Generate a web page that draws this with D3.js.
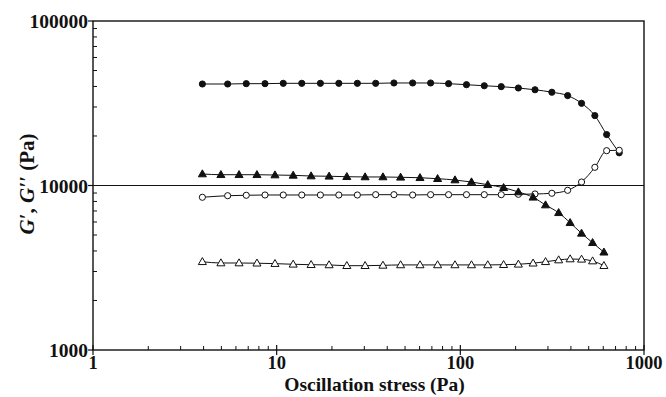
<!DOCTYPE html>
<html><head><meta charset="utf-8">
<script src="https://cdn.jsdelivr.net/npm/d3@7"></script>
<style>body{margin:0;background:#fff}svg{display:block}</style>
</head><body><svg id="c" width="666" height="397"></svg>
<script>
// Stress values (Pa)
const xCircles = [3.94,5.41,6.83,8.64,10.86,13.7,17.3,21.8,27.5,34.6,43.5,55.0,68.9,86.3,108,135,167,207,255,315,384,457,540,626,733];
const xTriangles = [3.94,4.97,6.24,7.81,9.79,12.3,15.4,19.3,24.1,30.3,37.9,47.3,60.3,75.2,93.5,115,141,172,207,249,291,343,396,457,525,605];
// Moduli (Pa)
const gFilledCircle = [41400,41400,41600,41600,41800,41800,41800,41800,41800,41800,42000,42000,42000,41600,41000,40400,39900,39150,38200,36900,35200,31600,26600,20400,15800];
const gOpenCircle = [8480,8670,8720,8755,8755,8755,8755,8755,8755,8795,8795,8755,8795,8795,8795,8795,8795,8840,8880,8970,9350,10500,12900,16280,16370];
const gFilledTriangle = [11750,11630,11630,11630,11580,11530,11420,11380,11310,11270,11270,11220,11150,11000,10800,10500,10110,9700,9130,8480,7610,6830,5940,5120,4490,3930];
const gOpenTriangle = [3440,3380,3380,3370,3350,3320,3300,3290,3255,3255,3270,3290,3290,3290,3290,3290,3290,3300,3320,3370,3440,3525,3575,3560,3475,3255];
const xTickLabels = ["1","10","100","1000"];
const yTickLabels = ["1000","10000","100000"];
const refLine = 10000;

const svg = d3.select("#c");
const L=93,R=644,T=21,B=350;
const x = d3.scaleLog().domain([1,1000]).range([L,R]);
const y = d3.scaleLog().domain([1000,100000]).range([B,T]);
const ink = "#111";
const serif = "'Liberation Serif','Times New Roman',serif";

// minor ticks
const xMinor=[], yMinor=[];
[1,10,100].forEach(d=>{for(let k=2;k<=9;k++) xMinor.push(d*k);});
[1000,10000].forEach(d=>{for(let k=2;k<=9;k++) yMinor.push(d*k);});
svg.append("g").selectAll("line").data(xMinor).join("line")
  .attr("x1",d=>x(d)).attr("x2",d=>x(d)).attr("y1",B).attr("y2",B-4)
  .attr("stroke",ink).attr("stroke-width",1);
svg.append("g").selectAll("line").data(yMinor).join("line")
  .attr("x1",L).attr("x2",L+4).attr("y1",d=>y(d)).attr("y2",d=>y(d))
  .attr("stroke",ink).attr("stroke-width",1);
// major ticks
svg.append("g").selectAll("line").data(xTickLabels).join("line")
  .attr("x1",d=>x(+d)).attr("x2",d=>x(+d)).attr("y1",B-5).attr("y2",B+5)
  .attr("stroke",ink).attr("stroke-width",1.2);
svg.append("g").selectAll("line").data(yTickLabels).join("line")
  .attr("x1",L-5).attr("x2",L).attr("y1",d=>y(+d)).attr("y2",d=>y(+d))
  .attr("stroke",ink).attr("stroke-width",1.2);

// frame
svg.append("rect").attr("x",L).attr("y",T).attr("width",R-L).attr("height",B-T)
  .attr("fill","none").attr("stroke",ink).attr("stroke-width",1.4);

// reference line
svg.append("line").attr("x1",L).attr("x2",R).attr("y1",y(refLine)).attr("y2",y(refLine))
  .attr("stroke",ink).attr("stroke-width",1.2);

// tick labels
svg.append("g").selectAll("text").data(xTickLabels).join("text")
  .attr("x",d=>x(+d)).attr("y",369).attr("text-anchor","middle")
  .attr("font-family",serif).attr("font-weight","bold").attr("font-size",18.5).attr("fill",ink).text(d=>d);
svg.append("g").selectAll("text").data(yTickLabels).join("text")
  .attr("x",L-5).attr("y",d=>y(+d)+7).attr("text-anchor","end")
  .attr("font-family",serif).attr("font-weight","bold").attr("font-size",19.5).attr("fill",ink).text(d=>d);

// axis titles
svg.append("text").attr("x",(L+R)/2+6).attr("y",391).attr("text-anchor","middle")
  .attr("font-family",serif).attr("font-weight","bold").attr("font-size",19.5).attr("fill",ink)
  .text("Oscillation stress (Pa)");
const yt = svg.append("text").attr("transform","translate(34,184) rotate(-90)").attr("text-anchor","middle")
  .attr("font-family",serif).attr("font-weight","bold").attr("font-size",21).attr("fill",ink);
yt.append("tspan").attr("font-style","italic").text("G′");
yt.append("tspan").text(", ");
yt.append("tspan").attr("font-style","italic").text("G′′");
yt.append("tspan").text(" (Pa)");

// series
const series = [
  {xs:xCircles, ys:gFilledCircle, shape:"circle", fill:ink},
  {xs:xCircles, ys:gOpenCircle, shape:"circle", fill:"#fff"},
  {xs:xTriangles, ys:gFilledTriangle, shape:"triangle", fill:ink},
  {xs:xTriangles, ys:gOpenTriangle, shape:"triangle", fill:"#fff"}
];
const line = d3.line().x(d=>x(d[0])).y(d=>y(d[1])).curve(d3.curveMonotoneX);
series.forEach(s=>{
  const pts = s.xs.map((v,i)=>[v,s.ys[i]]);
  svg.append("path").datum(pts).attr("d",line).attr("fill","none")
    .attr("stroke",ink).attr("stroke-width",1);
});
series.forEach(s=>{
  const pts = s.xs.map((v,i)=>[v,s.ys[i]]);
  const sym = d3.symbol().type(s.shape==="circle"?d3.symbolCircle:d3.symbolTriangle)
    .size(s.shape==="circle"?30:28);
  svg.append("g").selectAll("path").data(pts).join("path")
    .attr("transform",d=>`translate(${x(d[0])},${y(d[1])+(s.shape==="triangle"?0.5:0)})`)
    .attr("d",sym).attr("fill",s.fill).attr("stroke",ink).attr("stroke-width",1);
});
</script></body></html>
